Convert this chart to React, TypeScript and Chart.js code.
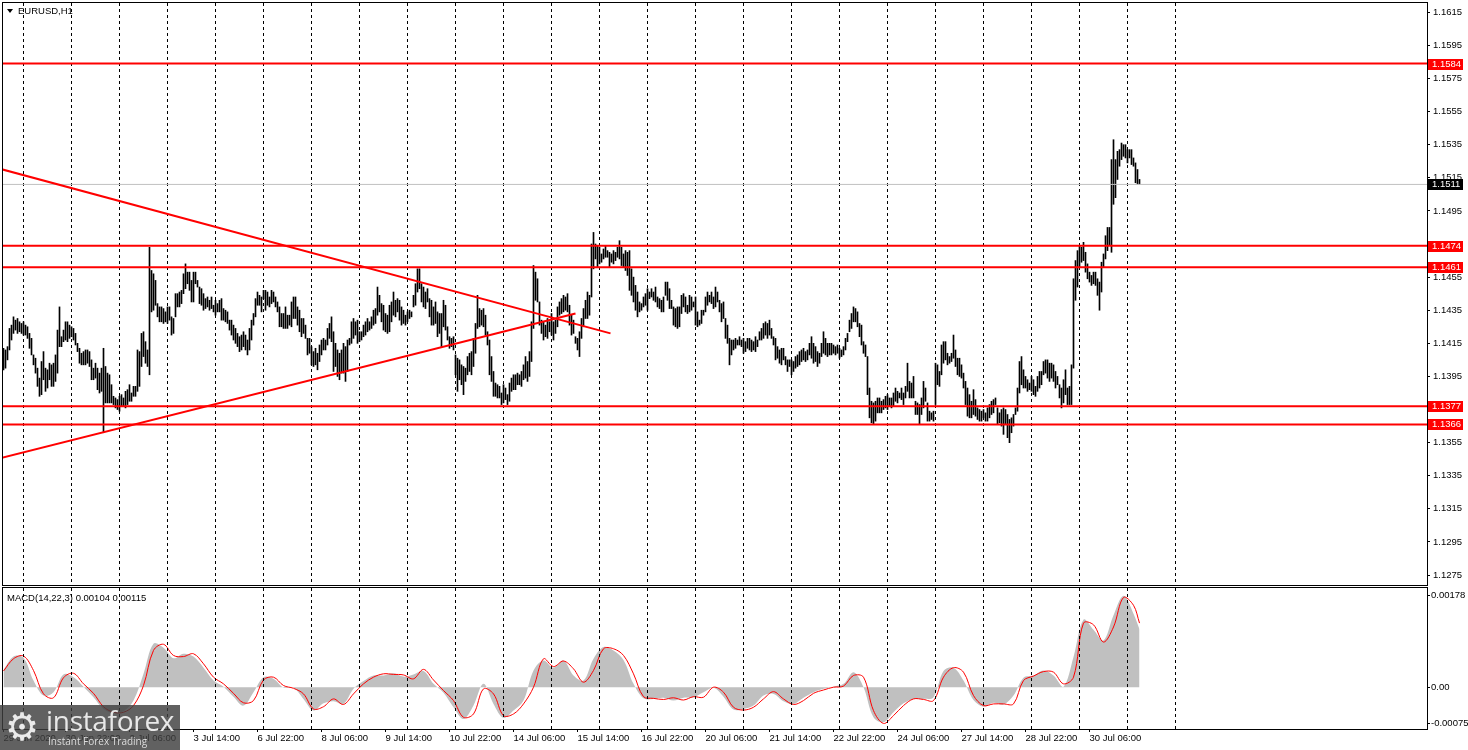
import React, { useEffect, useRef } from "react";
import { Chart, registerables } from "chart.js";

Chart.register(...registerables);

const FONT = "'Liberation Sans', Arial, Helvetica, sans-serif";

// ---------------- data ----------------
// hourly bars (index 0 = 29 Jun 2020 15:00), high / low
const highs = [
1.1412,1.1411,1.1413,1.1424,1.1426,1.1431,1.1429,1.1430,1.1428,1.1427,
1.1428,1.1426,1.1425,1.1421,1.1418,1.1408,1.1406,1.1400,1.1394,1.1404,
1.1410,1.1400,1.1399,1.1403,1.1402,1.1403,1.1408,1.1423,1.1437,1.1419,
1.1423,1.1428,1.1428,1.1426,1.1425,1.1424,1.1421,1.1415,1.1412,1.1409,
1.1410,1.1411,1.1411,1.1410,1.1405,1.1400,1.1403,1.1400,1.1397,1.1400,
1.1412,1.1401,1.1397,1.1396,1.1390,1.1383,1.1382,1.1381,1.1383,1.1384,
1.1382,1.1386,1.1387,1.1390,1.1385,1.1389,1.1389,1.1411,1.1410,1.1421,
1.1422,1.1416,1.1411,1.1473,1.1459,1.1457,1.1453,1.1439,1.1437,1.1437,
1.1436,1.1434,1.1437,1.1437,1.1431,1.1430,1.1445,1.1445,1.1446,1.1447,
1.1457,1.1463,1.1458,1.1458,1.1453,1.1458,1.1458,1.1453,1.1449,1.1448,
1.1445,1.1442,1.1443,1.1441,1.1443,1.1438,1.1441,1.1439,1.1441,1.1442,
1.1436,1.1435,1.1434,1.1429,1.1429,1.1426,1.1424,1.1421,1.1419,1.1420,
1.1422,1.1420,1.1417,1.1424,1.1429,1.1433,1.1442,1.1446,1.1444,1.1443,
1.1447,1.1447,1.1446,1.1443,1.1447,1.1446,1.1443,1.1440,1.1437,1.1433,
1.1433,1.1437,1.1432,1.1432,
1.1440,1.1443,1.1443,1.1437,1.1435,1.1430,1.1430,1.1426,1.1418,1.1418,
1.1413,1.1410,1.1412,1.1409,1.1414,1.1417,1.1418,1.1417,1.1424,1.1427,
1.1431,1.1422,1.1415,1.1411,1.1409,1.1411,1.1415,1.1413,1.1417,1.1418,
1.1428,1.1430,1.1428,1.1429,1.1422,1.1422,1.1426,1.1428,1.1430,1.1428,
1.1431,1.1435,1.1436,1.1449,1.1444,1.1439,1.1438,1.1433,1.1432,1.1438,
1.1440,1.1446,1.1441,1.1442,1.1441,1.1437,1.1435,1.1432,1.1434,1.1435,
1.1434,1.1444,1.1451,1.1460,1.1460,1.1451,1.1449,1.1446,1.1448,1.1442,
1.1441,1.1437,1.1440,1.1434,1.1433,1.1433,1.1441,1.1438,1.1425,1.1419,
1.1418,1.1419,1.1408,1.1406,1.1405,1.1402,1.1401,1.1400,1.1407,1.1409,
1.1410,1.1418,1.1427,1.1444,1.1436,1.1435,1.1436,1.1432,1.1422,1.1417,
1.1407,1.1398,1.1391,1.1390,1.1389,1.1385,1.1390,1.1388,1.1384,1.1391,
1.1394,1.1396,1.1396,1.1397,1.1396,1.1398,1.1402,1.1407,1.1404,1.1410,
1.1428,1.1462,1.1458,1.1454,1.1440,1.1429,1.1428,1.1426,1.1430,1.1428,
1.1433,1.1428,1.1429,1.1437,1.1440,1.1442,1.1444,1.1443,1.1445,1.1438,
1.1432,1.1429,1.1419,1.1418,1.1422,1.1430,1.1436,1.1441,1.1446,1.1444,
1.1475,1.1482,1.1475,1.1474,
1.1473,1.1469,1.1472,1.1474,1.1471,1.1470,1.1469,1.1471,1.1470,1.1473,
1.1477,1.1473,1.1469,1.1471,1.1470,1.1471,1.1460,1.1455,1.1450,1.1446,
1.1440,1.1439,1.1443,1.1445,1.1448,1.1446,1.1448,1.1446,1.1449,1.1443,
1.1442,1.1441,1.1443,1.1452,1.1452,1.1448,1.1441,1.1437,1.1436,1.1437,
1.1437,1.1444,1.1445,1.1443,1.1438,1.1444,1.1443,1.1440,1.1443,1.1434,
1.1429,1.1435,1.1435,1.1443,1.1446,1.1444,1.1446,1.1443,1.1449,1.1446,
1.1441,1.1439,1.1440,1.1430,1.1426,1.1418,1.1417,1.1417,1.1418,1.1417,
1.1419,1.1417,1.1418,1.1416,1.1418,1.1418,1.1417,1.1416,1.1419,1.1417,
1.1422,1.1424,1.1427,1.1428,1.1427,1.1429,1.1424,1.1419,1.1418,1.1413,
1.1411,1.1412,1.1412,1.1407,1.1405,1.1405,1.1405,1.1404,1.1407,1.1408,
1.1410,1.1411,1.1412,1.1410,1.1411,1.1415,1.1419,1.1415,1.1413,1.1410,
1.1409,1.1415,1.1422,1.1418,1.1415,1.1415,1.1415,1.1414,1.1413,1.1414,
1.1412,1.1411,1.1413,1.1418,1.1421,1.1429,1.1433,1.1437,1.1436,1.1434,
1.1427,1.1426,1.1416,1.1414,1.1407,
1.1388,1.1380,1.1379,1.1380,1.1382,1.1382,1.1380,1.1381,1.1383,1.1384,
1.1382,1.1382,1.1385,1.1388,1.1386,1.1385,1.1388,1.1385,1.1389,1.1403,
1.1392,1.1391,1.1395,1.1380,1.1379,1.1378,1.1382,1.1392,1.1388,1.1379,
1.1374,1.1373,1.1374,1.1403,1.1402,1.1398,1.1414,1.1416,1.1416,1.1409,
1.1407,1.1409,1.1420,1.1411,1.1406,1.1406,1.1402,1.1397,1.1392,1.1388,
1.1384,1.1380,1.1387,1.1381,1.1376,1.1375,1.1374,1.1375,1.1373,1.1376,
1.1378,1.1380,1.1381,1.1382,1.1376,1.1373,1.1375,1.1376,1.1375,1.1372,
1.1369,1.1370,1.1372,1.1376,1.1388,1.1404,1.1407,1.1399,1.1395,1.1393,
1.1391,1.1395,1.1393,1.1389,1.1395,1.1398,1.1398,1.1404,1.1405,1.1405,
1.1403,1.1403,1.1402,1.1398,1.1395,1.1390,1.1388,1.1393,1.1399,1.1388,
1.1389,1.1402,1.1454,1.1465,1.1471,1.1474,1.1473,1.1476,1.1470,1.1463,
1.1458,1.1456,1.1458,1.1458,1.1454,1.1452,1.1464,1.1469,1.1480,1.1485,
1.1485,1.1526,1.1538,1.1526,1.1531,1.1532,1.1536,1.1535,1.1535,1.1532,
1.1532,1.1532,1.1527,1.1524,1.1520,1.1514
];

const lows = [
1.1399,1.1400,1.1405,1.1411,1.1417,1.1421,1.1423,1.1421,1.1422,1.1421,
1.1420,1.1420,1.1418,1.1412,1.1408,1.1402,1.1397,1.1389,1.1383,1.1384,
1.1393,1.1386,1.1388,1.1393,1.1389,1.1389,1.1392,1.1397,1.1413,1.1413,
1.1416,1.1417,1.1416,1.1418,1.1419,1.1417,1.1414,1.1410,1.1403,1.1402,
1.1402,1.1402,1.1403,1.1401,1.1393,1.1393,1.1394,1.1387,1.1385,1.1386,
1.1361,1.1379,1.1379,1.1379,1.1379,1.1378,1.1376,1.1375,1.1374,1.1377,
1.1377,1.1376,1.1378,1.1380,1.1380,1.1383,1.1383,1.1386,1.1389,1.1401,
1.1407,1.1403,1.1401,1.1396,1.1434,1.1435,1.1438,1.1431,1.1428,1.1428,
1.1427,1.1428,1.1427,1.1429,1.1420,1.1421,1.1431,1.1437,1.1437,1.1439,
1.1445,1.1448,1.1451,1.1447,1.1440,1.1440,1.1451,1.1449,1.1439,1.1438,
1.1435,1.1436,1.1437,1.1435,1.1436,1.1434,1.1432,1.1434,1.1434,1.1429,
1.1429,1.1428,1.1427,1.1423,1.1420,1.1417,1.1415,1.1413,1.1410,1.1411,
1.1413,1.1411,1.1408,1.1411,1.1417,1.1426,1.1431,1.1438,1.1438,1.1434,
1.1442,1.1435,1.1438,1.1437,1.1439,1.1440,1.1437,1.1434,1.1425,1.1425,
1.1424,1.1424,1.1424,1.1426,
1.1425,1.1430,1.1430,1.1426,1.1422,1.1419,1.1421,1.1418,1.1408,1.1409,
1.1402,1.1401,1.1402,1.1399,1.1404,1.1408,1.1411,1.1411,1.1414,1.1418,
1.1416,1.1398,1.1401,1.1395,1.1393,1.1397,1.1397,1.1392,1.1398,1.1414,
1.1415,1.1418,1.1420,1.1415,1.1416,1.1417,1.1419,1.1420,1.1422,1.1423,
1.1424,1.1426,1.1427,1.1432,1.1434,1.1428,1.1423,1.1422,1.1421,1.1422,
1.1428,1.1432,1.1431,1.1434,1.1429,1.1426,1.1427,1.1426,1.1428,1.1430,
1.1431,1.1437,1.1438,1.1446,1.1448,1.1440,1.1437,1.1436,1.1440,1.1431,
1.1426,1.1426,1.1427,1.1419,1.1421,1.1413,1.1425,1.1423,1.1417,1.1412,
1.1413,1.1411,1.1396,1.1386,1.1393,1.1390,1.1384,1.1392,1.1396,1.1398,
1.1396,1.1401,1.1409,1.1424,1.1425,1.1426,1.1425,1.1420,1.1414,1.1396,
1.1392,1.1383,1.1383,1.1382,1.1382,1.1378,1.1379,1.1381,1.1378,1.1380,
1.1386,1.1387,1.1387,1.1390,1.1390,1.1389,1.1393,1.1394,1.1392,1.1395,
1.1404,1.1424,1.1441,1.1440,1.1426,1.1421,1.1417,1.1419,1.1418,1.1422,
1.1420,1.1417,1.1421,1.1425,1.1432,1.1433,1.1434,1.1435,1.1434,1.1426,
1.1420,1.1421,1.1415,1.1411,1.1407,1.1418,1.1425,1.1430,1.1430,1.1432,
1.1443,1.1460,1.1466,1.1461,
1.1463,1.1464,1.1466,1.1467,1.1467,1.1461,1.1464,1.1463,1.1465,1.1467,
1.1466,1.1462,1.1461,1.1459,1.1456,1.1447,1.1444,1.1440,1.1435,1.1431,
1.1434,1.1435,1.1437,1.1438,1.1435,1.1442,1.1443,1.1441,1.1440,1.1437,
1.1436,1.1434,1.1434,1.1444,1.1441,1.1436,1.1436,1.1426,1.1425,1.1424,
1.1425,1.1433,1.1437,1.1434,1.1433,1.1434,1.1435,1.1437,1.1426,1.1425,
1.1426,1.1427,1.1432,1.1434,1.1438,1.1440,1.1439,1.1436,1.1437,1.1440,
1.1434,1.1428,1.1430,1.1418,1.1415,1.1402,1.1408,1.1411,1.1412,1.1414,
1.1414,1.1413,1.1409,1.1410,1.1412,1.1411,1.1410,1.1411,1.1410,1.1413,
1.1417,1.1417,1.1418,1.1420,1.1418,1.1420,1.1418,1.1414,1.1405,1.1406,
1.1403,1.1402,1.1405,1.1402,1.1398,1.1401,1.1396,1.1398,1.1400,1.1401,
1.1402,1.1404,1.1405,1.1404,1.1405,1.1408,1.1406,1.1403,1.1404,1.1401,
1.1403,1.1407,1.1409,1.1408,1.1407,1.1408,1.1408,1.1409,1.1408,1.1409,
1.1406,1.1407,1.1408,1.1411,1.1416,1.1422,1.1424,1.1428,1.1428,1.1425,
1.1419,1.1414,1.1409,1.1407,1.1384,
1.1370,1.1367,1.1366,1.1368,1.1373,1.1373,1.1373,1.1375,1.1376,1.1375,
1.1377,1.1376,1.1377,1.1380,1.1379,1.1382,1.1381,1.1378,1.1382,1.1386,
1.1382,1.1382,1.1382,1.1372,1.1372,1.1366,1.1372,1.1376,1.1380,1.1368,
1.1368,1.1369,1.1368,1.1378,1.1390,1.1389,1.1396,1.1403,1.1405,1.1402,
1.1403,1.1404,1.1406,1.1401,1.1396,1.1395,1.1394,1.1388,1.1378,1.1371,
1.1370,1.1370,1.1372,1.1371,1.1369,1.1368,1.1368,1.1370,1.1368,1.1368,
1.1370,1.1372,1.1373,1.1378,1.1366,1.1367,1.1365,1.1360,1.1366,1.1358,
1.1355,1.1361,1.1365,1.1372,1.1374,1.1385,1.1390,1.1388,1.1388,1.1386,
1.1387,1.1386,1.1384,1.1383,1.1386,1.1388,1.1390,1.1396,1.1397,1.1394,
1.1392,1.1394,1.1392,1.1388,1.1390,1.1382,1.1376,1.1379,1.1384,1.1378,
1.1378,1.1378,1.1400,1.1441,1.1449,1.1461,1.1464,1.1465,1.1458,1.1454,
1.1452,1.1450,1.1451,1.1450,1.1444,1.1435,1.1446,1.1461,1.1466,1.1471,
1.1474,1.1470,1.1499,1.1503,1.1514,1.1522,1.1526,1.1528,1.1527,1.1524,
1.1527,1.1523,1.1522,1.1512,1.1511,1.1511
];

const priceTicks = [1.1275,1.1295,1.1315,1.1335,1.1355,1.1375,1.1395,1.1415,1.1435,
  1.1455,1.1475,1.1495,1.1515,1.1535,1.1555,1.1575,1.1595,1.1615];
const levels = [1.1584, 1.1474, 1.1461, 1.1377, 1.1366];
const lastPrice = 1.1511;
const trendDownX = [-0.5, 303.5];
const trendDownY = [1.1520, 1.1421];
const trendUpX = [-0.5, 286];
const trendUpY = [1.1346, 1.1433];

const timeLabelIdx = [0,31,63,95,127,159,191,223,255,287,319,351,383,415,447,479,511,543];
const timeLabels = ["29 Jun 2020","30 Jun 22:00","2 Jul 06:00","3 Jul 14:00","6 Jul 22:00",
  "8 Jul 06:00","9 Jul 14:00","10 Jul 22:00","14 Jul 06:00","15 Jul 14:00","16 Jul 22:00",
  "20 Jul 06:00","21 Jul 14:00","22 Jul 22:00","24 Jul 06:00","27 Jul 14:00","28 Jul 22:00",
  "30 Jul 06:00"];
const gridIdx = [10,34,58,82,106,130,154,178,202,226,250,274,298,322,346,370,394,418,442,
  466,490,514,538,562,586];

// MACD(14,22,3) read every 5 bars (+ last bar)
const macdIdx = Array.from({ length: 114 }, (_, k) => k * 5).concat([568]);
const macdMain = [
0.00031,0.00055,0.00053,0.00012,-0.00015,-0.00009,0.00023,0.00018,0.00001,-0.00018,
-0.00039,-0.00046,-0.00043,-0.00024,0.00024,0.00078,0.00071,0.00052,0.00060,0.00055,
0.00035,0.00012,0.00001,-0.00017,-0.00033,-0.00009,0.00018,0.00015,-0.00001,-0.00001,
-0.00021,-0.00042,-0.00029,-0.00025,-0.00030,-0.00003,0.00011,0.00021,0.00021,0.00025,
0.00019,0.00023,0.00029,0.00006,-0.00010,-0.00036,-0.00057,-0.00033,
0.00006,-0.00030,-0.00055,-0.00042,-0.00024,0.00030,0.00048,0.00035,0.00048,0.00021,
0.00012,0.00051,0.00072,0.00066,0.00049,0.00006,-0.00020,-0.00021,-0.00019,-0.00024,
-0.00019,-0.00018,-0.00009,-0.00001,-0.00017,-0.00040,-0.00039,-0.00033,-0.00015,-0.00012,
-0.00025,-0.00030,-0.00019,-0.00009,-0.00003,0.00001,0.00006,0.00027,0.00000,-0.00054,
-0.00063,-0.00045,-0.00029,-0.00021,-0.00021,-0.00018,0.00029,0.00035,
0.00012,-0.00023,-0.00035,-0.00028,-0.00031,-0.00015,0.00017,0.00021,0.00030,0.00021,
0.00001,0.00054,0.00121,0.00103,0.00084,0.00129,0.00164,0.00132,
0.00104
];
const macdSignal = [
0.00029,0.00051,0.00056,0.00030,-0.00012,-0.00019,0.00017,0.00025,0.00006,-0.00011,
-0.00035,-0.00045,-0.00045,-0.00033,0.00003,0.00066,0.00077,0.00057,0.00055,0.00060,
0.00042,0.00018,0.00006,-0.00011,-0.00028,-0.00024,0.00013,0.00018,0.00003,-0.00002,
-0.00012,-0.00039,-0.00035,-0.00021,-0.00031,-0.00012,0.00006,0.00018,0.00024,0.00023,
0.00022,0.00015,0.00032,0.00013,-0.00006,-0.00024,-0.00054,-0.00048,
-0.00003,-0.00012,-0.00051,-0.00048,-0.00030,0.00000,0.00051,0.00037,0.00047,0.00033,
0.00009,0.00030,0.00069,0.00069,0.00057,0.00024,-0.00017,-0.00020,-0.00022,-0.00019,
-0.00023,-0.00017,-0.00018,0.00000,-0.00009,-0.00036,-0.00041,-0.00036,-0.00021,-0.00008,
-0.00021,-0.00031,-0.00024,-0.00011,-0.00005,0.00000,0.00002,0.00021,0.00018,-0.00042,
-0.00065,-0.00051,-0.00033,-0.00021,-0.00022,-0.00024,0.00018,0.00035,
0.00027,-0.00015,-0.00033,-0.00030,-0.00030,-0.00030,0.00012,0.00020,0.00028,0.00027,
0.00006,0.00018,0.00115,0.00112,0.00081,0.00108,0.00161,0.00147,
0.00115
];
const macdTickValues = [0.00178, 0, -0.00075];
const macdTickLabels = ["0.00178", "0.00", "-0.00075"];

const priceMin = 1.1269;
const priceMax = 1.16206;
const macdMin = -0.00075;
const macdMax = 0.00178;
const X_MIN = -0.25;
const X_MAX = 711.75;

// ---------------- plugins ----------------
const makeVGrid = (after: boolean) => {
  const draw = (chart: any) => {
    const { ctx, chartArea, scales } = chart;
    ctx.save();
    ctx.strokeStyle = "#000";
    ctx.lineWidth = 1;
    ctx.setLineDash([3, 3]);
    for (const g of gridIdx) {
      const x = Math.floor(scales.x.getPixelForValue(g)) + 0.5;
      ctx.beginPath();
      ctx.moveTo(x, chartArea.top);
      ctx.lineTo(x, chartArea.bottom);
      ctx.stroke();
    }
    ctx.restore();
  };
  return after
    ? { id: "vgridA", afterDatasetsDraw: draw }
    : { id: "vgridB", beforeDatasetsDraw: draw };
};

const framePlugin = {
  id: "frame",
  afterDraw(chart: any) {
    const { ctx, chartArea } = chart;
    ctx.save();
    ctx.strokeStyle = "#000";
    ctx.lineWidth = 1;
    ctx.strokeRect(chartArea.left - 0.5, chartArea.top - 0.5,
      chartArea.right - chartArea.left + 1, chartArea.bottom - chartArea.top + 1);
    ctx.restore();
  },
};

const levelBoxPlugin = {
  id: "levelBoxes",
  afterDraw(chart: any) {
    const { ctx, chartArea, scales } = chart;
    ctx.save();
    ctx.font = `9.5px ${FONT}`;
    ctx.textBaseline = "middle";
    ctx.textAlign = "left";
    const box = (v: number, bg: string) => {
      const y = Math.round(scales.y.getPixelForValue(v));
      ctx.fillStyle = bg;
      ctx.fillRect(chartArea.right + 1, y - 5, 35, 11);
      ctx.fillStyle = "#fff";
      ctx.fillText(v.toFixed(4), chartArea.right + 5, y + 0.5);
    };
    levels.forEach((v) => box(v, "#ff0000"));
    box(lastPrice, "#000000");
    ctx.restore();
  },
};

const macdLabelPlugin = {
  id: "macdLabels",
  afterDraw(chart: any) {
    const { ctx, chartArea, scales } = chart;
    ctx.save();
    ctx.font = `9.5px ${FONT}`;
    ctx.textBaseline = "middle";
    ctx.textAlign = "left";
    ctx.fillStyle = "#000";
    macdTickValues.forEach((v, k) => {
      let y = scales.y.getPixelForValue(v);
      y = Math.min(Math.max(y, chartArea.top + 7), chartArea.bottom - 6);
      ctx.fillRect(chartArea.right, Math.round(y), 3, 1);
      ctx.fillText(macdTickLabels[k], chartArea.right + 4, y + 0.5);
    });
    ctx.restore();
  },
};

const lineDs = (xs: number[], ys: number[], color: string, width: number, order: number) => ({
  type: "line",
  data: xs.map((x, k) => ({ x, y: ys[k] })),
  borderColor: color,
  borderWidth: width,
  pointRadius: 0,
  fill: false,
  order,
});

export default function App() {
  const priceRef = useRef<HTMLCanvasElement>(null);
  const macdRef = useRef<HTMLCanvasElement>(null);

  useEffect(() => {
    const priceChart = new Chart(priceRef.current as HTMLCanvasElement, {
      type: "bar",
      data: {
        datasets: [
          {
            type: "bar",
            data: highs.map((h, i) => ({ x: i, y: [lows[i], h] })),
            backgroundColor: "#000000",
            borderWidth: 0,
            barThickness: 1,
            order: 5,
          },
          lineDs([X_MIN, X_MAX], [lastPrice, lastPrice], "#c0c0c0", 1, 4),
          ...levels.map((v) => lineDs([X_MIN, X_MAX], [v, v], "#ff0000", 2, 1)),
          lineDs(trendDownX, trendDownY, "#ff0000", 2, 1),
          lineDs(trendUpX, trendUpY, "#ff0000", 2, 1),
        ] as any,
      },
      options: {
        responsive: false,
        animation: false,
        devicePixelRatio: 1,
        events: [],
        layout: { autoPadding: false, padding: { left: 3, top: 3, right: 0, bottom: 3 } },
        plugins: { legend: { display: false }, tooltip: { enabled: false } },
        scales: {
          x: { type: "linear", min: X_MIN, max: X_MAX, offset: false, display: false, grid: { offset: false } },
          y: {
            type: "linear",
            position: "right",
            min: priceMin,
            max: priceMax,
            afterFit: (s: any) => { s.width = 41; s.paddingTop = 0; s.paddingBottom = 0; },
            afterBuildTicks: (s: any) => { s.ticks = priceTicks.map((v) => ({ value: v })); },
            ticks: {
              autoSkip: false,
              padding: 3,
              color: "#000",
              font: { family: FONT, size: 9.5 },
              callback: (v: any) => Number(v).toFixed(4),
            },
            grid: { display: true, drawOnChartArea: false, drawTicks: true, tickLength: 3, color: "#000" },
            border: { display: true, color: "#000", width: 1 },
          },
        },
      } as any,
      plugins: [makeVGrid(false), framePlugin, levelBoxPlugin],
    });

    const macdChart = new Chart(macdRef.current as HTMLCanvasElement, {
      type: "line",
      data: {
        datasets: [
          {
            data: macdIdx.map((x, k) => ({ x, y: macdSignal[k] })),
            borderColor: "#ff0000",
            borderWidth: 1,
            pointRadius: 0,
            tension: 0.35,
            fill: false,
            order: 1,
          },
          {
            data: macdIdx.map((x, k) => ({ x, y: macdMain[k] })),
            borderColor: "rgba(0,0,0,0)",
            backgroundColor: "#c0c0c0",
            borderWidth: 0,
            pointRadius: 0,
            tension: 0.35,
            fill: "origin",
            order: 2,
          },
        ] as any,
      },
      options: {
        responsive: false,
        animation: false,
        devicePixelRatio: 1,
        events: [],
        layout: { autoPadding: false, padding: { left: 3, top: 1, right: 0, bottom: 0 } },
        plugins: { legend: { display: false }, tooltip: { enabled: false } },
        scales: {
          x: {
            type: "linear",
            min: X_MIN,
            max: X_MAX,
            offset: false,
            position: "bottom",
            afterFit: (s: any) => { s.height = 21; s.paddingLeft = 0; s.paddingRight = 0; },
            afterBuildTicks: (s: any) => { s.ticks = timeLabelIdx.map((v) => ({ value: v })); },
            ticks: {
              autoSkip: false,
              maxRotation: 0,
              minRotation: 0,
              align: "start",
              padding: 1,
              color: "#000",
              font: { family: FONT, size: 9.5 },
              callback: (_v: any, idx: number) => timeLabels[idx] ?? "",
            },
            grid: { display: true, offset: false, drawOnChartArea: false, drawTicks: true, tickLength: 3, color: "#000" },
            border: { display: true, color: "#000" },
          },
          y: {
            type: "linear",
            position: "right",
            min: macdMin,
            max: macdMax,
            afterFit: (s: any) => { s.width = 41; s.paddingTop = 0; s.paddingBottom = 0; },
            ticks: { display: false },
            grid: { display: false },
            border: { display: true, color: "#000" },
          },
        },
      } as any,
      plugins: [makeVGrid(true), framePlugin, macdLabelPlugin],
    });

    return () => {
      priceChart.destroy();
      macdChart.destroy();
    };
  }, []);

  const txt = { fontFamily: FONT, fontSize: 9.5, color: "#000", lineHeight: "11px", whiteSpace: "nowrap" as const };

  return (
    <div style={{ position: "fixed", left: 0, top: 0, width: 1468, height: 750, background: "#fff", overflow: "hidden" }}>
      <canvas ref={priceRef} width={1468} height={588}
        style={{ position: "absolute", left: 0, top: 0, width: 1468, height: 588 }} />
      <canvas ref={macdRef} width={1468} height={163}
        style={{ position: "absolute", left: 0, top: 587, width: 1468, height: 163 }} />

      {/* title */}
      <div style={{ position: "absolute", left: 7, top: 9, width: 0, height: 0,
        borderLeft: "3px solid transparent", borderRight: "3px solid transparent", borderTop: "4px solid #000" }} />
      <div style={{ ...txt, position: "absolute", left: 18, top: 5 }}>EURUSD,H1</div>

      {/* MACD caption */}
      <div style={{ ...txt, position: "absolute", left: 7, top: 591.5 }}>MACD(14,22,3) 0.00104 0.00115</div>

      {/* watermark */}
      <div style={{ position: "absolute", left: 0, top: 705, width: 180, height: 45, background: "rgba(62,62,62,0.82)" }}>
        <div style={{ position: "absolute", left: 5, top: 3, fontFamily: "'DejaVu Sans'", fontSize: 38, lineHeight: "38px", color: "#eaeaea" }}>⚙</div>
        <div style={{ position: "absolute", left: 46, top: 1, fontFamily: "'Open Sans', sans-serif", fontSize: 28, lineHeight: "28px", color: "#e8e8e8", letterSpacing: -0.3 }}>instaforex</div>
        <div style={{ position: "absolute", left: 48, top: 31, fontFamily: "'Open Sans', sans-serif", fontSize: 10, lineHeight: "10px", color: "#dcdcdc" }}>Instant Forex Trading</div>
      </div>
    </div>
  );
}
